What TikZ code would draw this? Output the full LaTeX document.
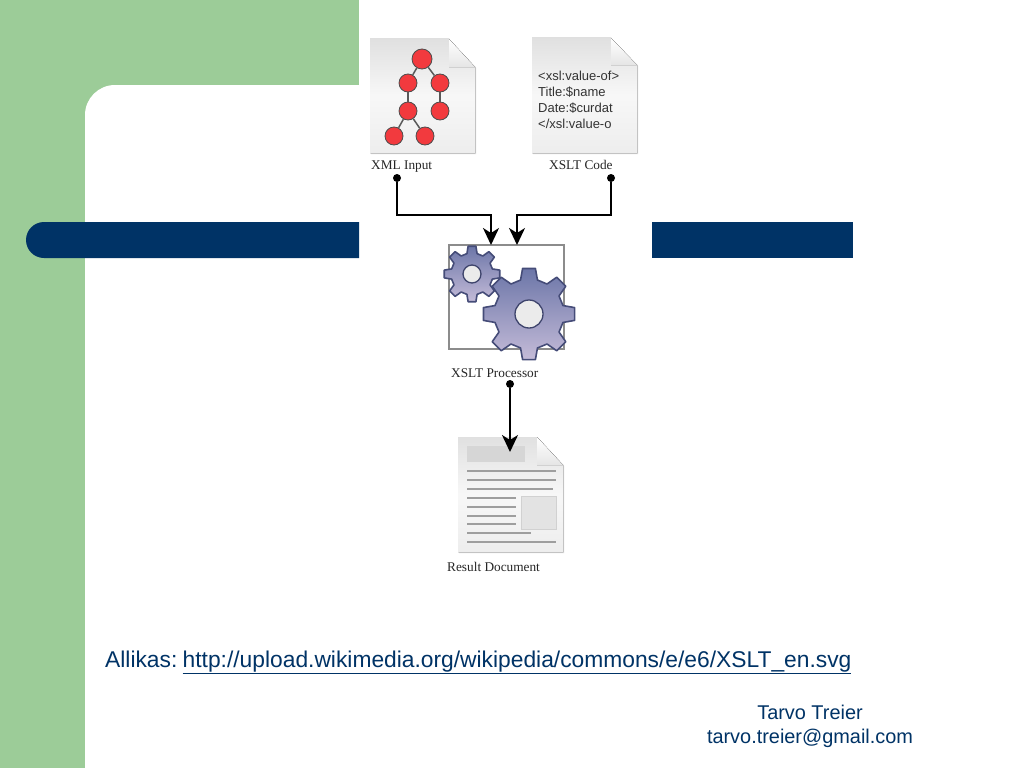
\documentclass[tikz,border=0pt]{standalone}
\usepackage{fontspec}
\setmainfont{Liberation Sans}
\newfontfamily\serifface{Liberation Serif}
\usetikzlibrary{arrows.meta,shadows}
\definecolor{slidegreen}{HTML}{9CCC98}
\definecolor{slideblue}{HTML}{003366}
\definecolor{treered}{HTML}{F23A3E}
\definecolor{gearedge}{HTML}{454C78}
\definecolor{geartop}{HTML}{6C76A8}
\definecolor{gearlow}{HTML}{C4BBD8}
\newcommand{\docpage}[6]{%
\fill[pageface] (#1,#2) -- (#3,#2) -- (#5,#6) -- (#5,#4) -- (#1,#4) -- cycle;
\fill[top color=white, bottom color=black!10] (#3,#2) -- (#3,#6) -- (#5,#6) -- cycle;
}
\newcommand{\gearwheel}[5]{%
\begin{scope}[shift={(#1,#2)}]
\draw[gearbody] (90-14:#4) \foreach \a in {90,135,...,405} {
  -- (\a-14:#4) -- (\a-8:#3) -- (\a+8:#3) -- (\a+14:#4)
} -- cycle;
\draw[gearhub] (0,0) circle (#5);
\end{scope}
}
\begin{document}
\begin{tikzpicture}[x=1pt, y=-1pt, >=Stealth,
  pageface/.style={top color=black!12, bottom color=black!7, middle color=black!3, drop shadow={shadow xshift=1pt, shadow yshift=-1pt, opacity=.15, fill=black}},
  treenode/.style={circle, draw=black!70, fill=treered, line width=.8pt, inner sep=0pt},
  treeedge/.style={draw=black!65, line width=1.5pt},
  gearbody/.style={draw=gearedge, line width=1.6pt, top color=geartop, bottom color=gearlow, line join=round},
  gearhub/.style={draw=gearedge!90!black, line width=1.3pt, fill=black!8},
  caption/.style={font=\serifface\fontsize{13.3}{15}\selectfont, text=black!85, inner sep=0pt},
  dot/.style={circle, fill=black, inner sep=0pt, minimum size=8pt},
  link/.style={draw=black, line width=2pt, ->, >={Stealth[length=17pt, width=16pt, inset=5pt]}},
  textline/.style={draw=black!38, line width=1.5pt}]
\path[use as bounding box] (0,0) rectangle (1024,768);
\fill[white] (0,0) rectangle (1024,768);
\fill[slidegreen] (0,0) rectangle (359,768);
\fill[white] (85,768) [rounded corners=30pt] -- (85,85) [sharp corners] -- (359,85) -- (359,768) -- cycle;
\fill[slideblue] (359,222) [rounded corners=18pt] -- (26,222) -- (26,258) [sharp corners] -- (359,258) -- cycle;
\fill[slideblue] (652,222) rectangle (853,258);

\docpage{370}{39}{449}{153}{475}{67}
\node[treenode, minimum size=20pt] (T0) at (422,59) {};
\node[treenode, minimum size=18pt] (T1) at (408,83) {};
\node[treenode, minimum size=18pt] (T2) at (440,83) {};
\node[treenode, minimum size=18pt] (T3) at (408,111) {};
\node[treenode, minimum size=18pt] (T4) at (440,111) {};
\node[treenode, minimum size=18pt] (T5) at (394,136) {};
\node[treenode, minimum size=18pt] (T6) at (425,136) {};
\path[treeedge] (T0) edge (T1) (T0) edge (T2) (T1) edge (T3) (T2) edge (T4) (T3) edge (T5) (T3) edge (T6);
\node[caption, anchor=west] (xmlinput) at (371,167) {XML Input};

\docpage{532}{38}{611}{153}{637}{65}
\node[anchor=north west, align=left, inner sep=0pt, text=black!80, font=\fontsize{13}{15.8}\selectfont] (xsltcode) at (538,71) {<xsl:value-of>\\Title:\$name\\Date:\$curdat\\</xsl:value-o};
\node[caption, anchor=west] (xsltlabel) at (549,165) {XSLT Code};

\draw[black!45, line width=1.5pt, fill=white] (449,245) rectangle (564,349);
\coordinate (P1) at (491,245);
\coordinate (P2) at (517,245);
\gearwheel{472}{274}{28}{21}{9}
\gearwheel{529}{314}{46}{35}{14}
\node[caption, anchor=west] (proclabel) at (451,373) {XSLT Processor};

\docpage{458}{437}{537}{552}{563}{465}
\fill[black!16] (467,446) rectangle (525,462);
\foreach \y/\e in {471/556,480/556,489/553,498/516,507/516,516/516,524/516,533/531,542/556}
  \draw[textline] (467,\y) -- (\e,\y);
\fill[black!11, draw=black!18] (521,496) rectangle (556,529);
\node[caption, anchor=west] (resultlabel) at (447,567) {Result Document};

\node[dot] (D1) at (397,178) {};
\node[dot] (D2) at (611,178) {};
\node[dot] (D3) at (510,384) {};
\coordinate (R1) at (510,452);
\draw[link] (D1) |- (491,215) -- (P1);
\draw[link] (D2) |- (517,215) -- (P2);
\draw[link] (D3) -- (R1);

\node[anchor=base west, inner sep=0pt, text=slideblue, font=\fontsize{22.8}{27}\selectfont] (source) at (105,667) {Allikas:\hspace{5.3pt}\underline{http://upload.wikimedia.org/wikipedia/commons/e/e6/XSLT\_en.svg}};
\node[anchor=center, align=center, inner sep=0pt, text=slideblue, font=\fontsize{19.9}{24}\selectfont] (contact) at (810,726) {Tarvo Treier\\tarvo.treier@gmail.com};
\end{tikzpicture}
\end{document}
